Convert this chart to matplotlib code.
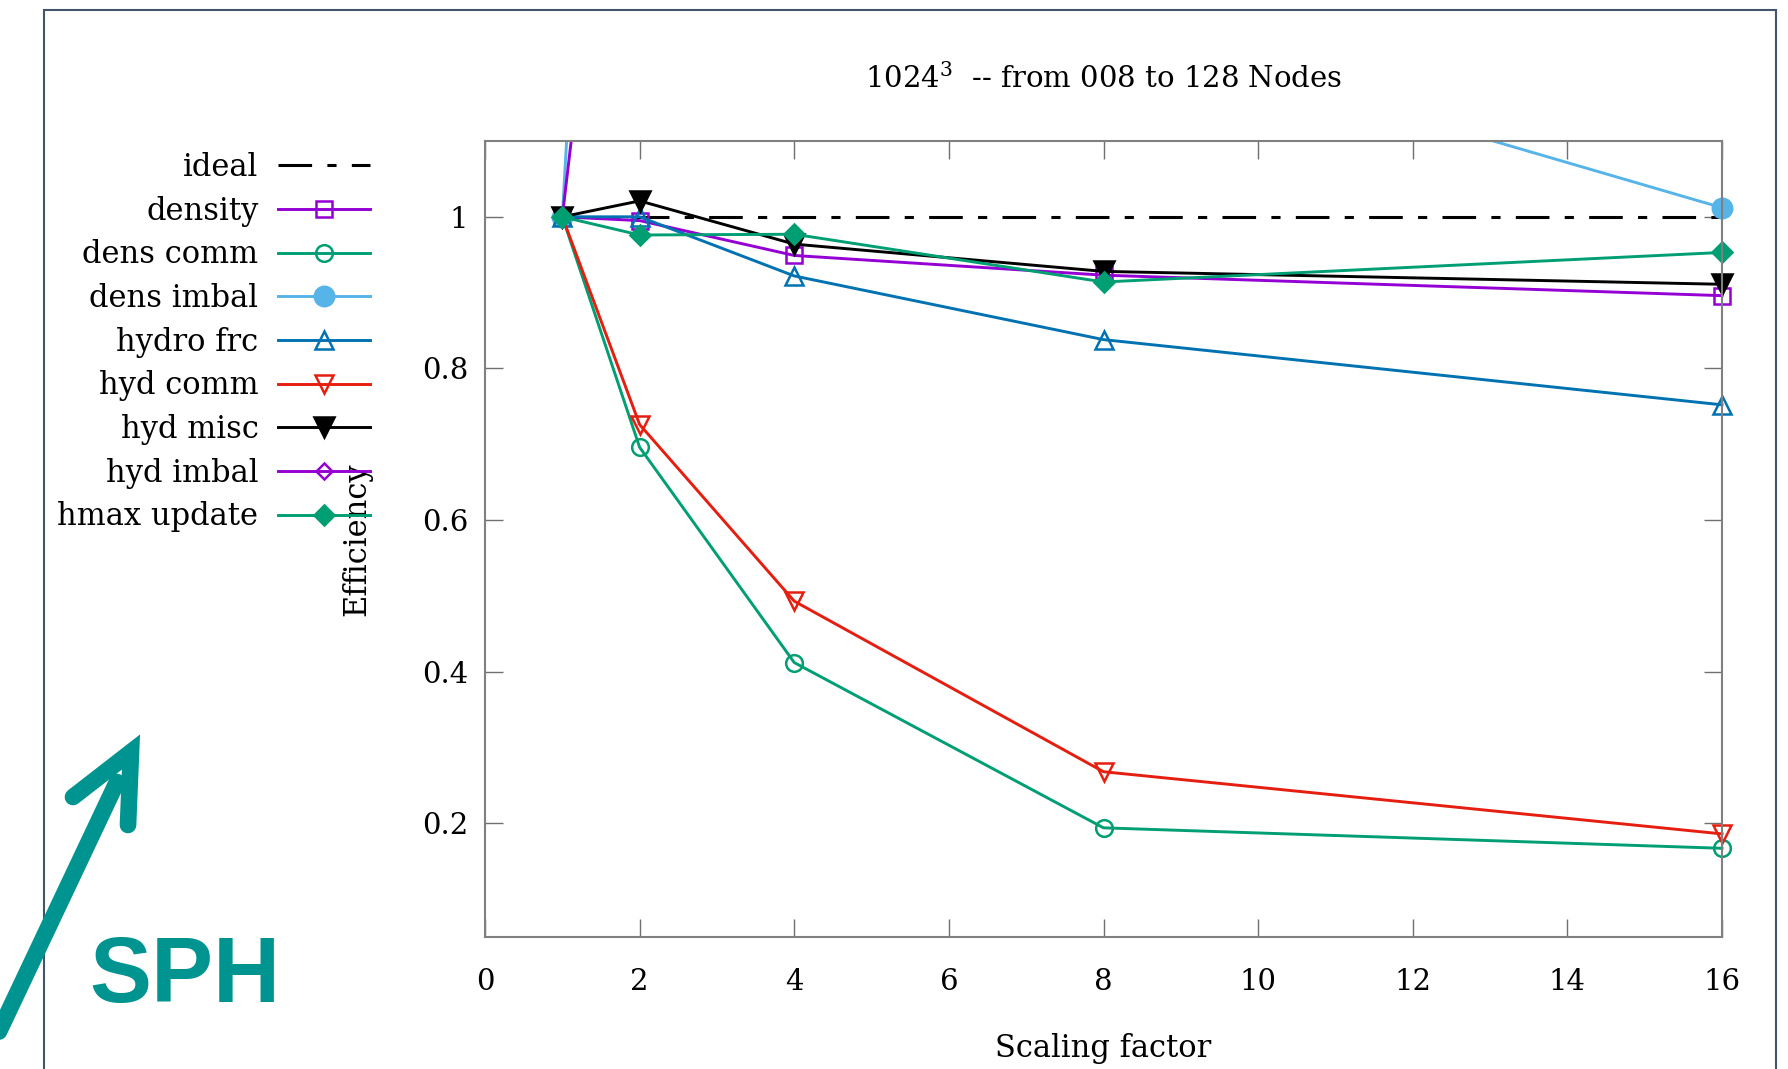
import matplotlib
matplotlib.use("Agg")
import matplotlib.pyplot as plt
from matplotlib.lines import Line2D
from matplotlib.patches import Rectangle
from matplotlib.transforms import Bbox, TransformedBbox

plt.rcParams['font.family'] = ['DejaVu Serif']
plt.rcParams['mathtext.fontset'] = 'dejavuserif'

# scaling factors (8 -> 128 nodes)
scale = [1, 2, 4, 8, 16]

density     = [1.0, 0.995, 0.949, 0.923, 0.896]
dens_comm   = [1.0, 0.696, 0.412, 0.194, 0.167]
dens_imbal  = [1.0, 2.80, 2.00, 1.25, 1.012]
hydro_frc   = [1.0, 1.0, 0.922, 0.838, 0.752]
hyd_comm    = [1.0, 0.726, 0.493, 0.268, 0.186]
hyd_misc    = [1.0, 1.021, 0.964, 0.928, 0.911]
hyd_imbal   = [1.0, 1.87, 1.60, 1.50, 1.40]
hmax_update = [1.0, 0.976, 0.977, 0.914, 0.953]
ideal = [1.0, 1.0]
ideal_x = [1, 16]

series = [
    ("density",     density,     "#9400d3", "s", 12, "none"),
    ("dens comm",   dens_comm,   "#009e73", "o", 12, "none"),
    ("dens imbal",  dens_imbal,  "#56b4e9", "o", 14, "full"),
    ("hydro frc",   hydro_frc,   "#0072b2", "^", 13, "none"),
    ("hyd comm",    hyd_comm,    "#e51e10", "v", 13, "none"),
    ("hyd misc",    hyd_misc,    "#000000", "v", 14, "full"),
    ("hyd imbal",   hyd_imbal,   "#9400d3", "D", 8,  "none"),
    ("hmax update", hmax_update, "#009e73", "D", 10, "full"),
]

W, H = 1788, 1069
fig = plt.figure(figsize=(W / 100, H / 100), dpi=100)
ax = fig.add_axes([485 / W, 1 - 937 / H, (1722 - 485) / W, (937 - 141) / H])

# slide frame
fig.add_artist(Rectangle((44 / W, -0.02), (1776 - 44) / W, 1 - 10 / H + 0.02,
                         transform=fig.transFigure, fill=False,
                         edgecolor="#44546a", linewidth=1.5))

ax.plot(ideal_x, ideal, color="black", linewidth=2.2, dashes=(11, 5, 3, 5),
        label="ideal")

clip = TransformedBbox(Bbox([[-0.03, 0], [1.03, 1]]), ax.transAxes)
for name, vals, col, mk, ms, fs in series:
    ln, = ax.plot(scale, vals, color=col, linewidth=2.1, marker=mk,
                  markersize=ms, fillstyle=fs, markeredgewidth=1.8,
                  label=name)
    ln.set_clip_box(clip)

ax.set_xlim(0, 16)
ax.set_ylim(0.05, 1.1)
ax.set_xticks(range(0, 17, 2))
ax.set_yticks([0.2, 0.4, 0.6, 0.8, 1.0])
ax.set_yticklabels(["0.2", "0.4", "0.6", "0.8", "1"])
ax.tick_params(direction="in", length=13, width=1, color="#707070",
               top=True, right=True, labelsize=21)
ax.tick_params(axis="x", pad=22)
ax.tick_params(axis="y", pad=12)
for sp in ax.spines.values():
    sp.set_color("#808080")
    sp.set_linewidth(1.5)

ax.set_title(r"1024$^3$  -- from 008 to 128 Nodes", fontsize=21, pad=38)
ax.set_xlabel("Scaling factor", fontsize=22, labelpad=27)
ax.set_ylabel("Efficiency", fontsize=22)
ax.yaxis.set_label_coords(-0.091, 0.5)

fig.legend(loc="upper right", bbox_to_anchor=(370 / W, 1 - 152 / H),
           frameon=False, markerfirst=False, fontsize=22, handlelength=3.0,
           handletextpad=0.65, labelspacing=0.415, borderpad=0,
           borderaxespad=0)

# SPH badge
teal = "#009490"
def fx(x):
    return x / W
def fy(y):
    return 1 - y / H
fig.add_artist(Line2D([fx(-5), fx(117)], [fy(1040), fy(782)], color=teal,
                      linewidth=12, solid_capstyle="round",
                      transform=fig.transFigure))
fig.add_artist(Line2D([fx(73), fx(131), fx(128)], [fy(797), fy(752), fy(825)],
                      color=teal, linewidth=12, solid_capstyle="round",
                      solid_joinstyle="miter", transform=fig.transFigure))
fig.text(fx(89), fy(1002), "SPH", color=teal, fontsize=67,
         fontweight="bold", family="Liberation Sans", va="baseline")

fig.savefig("out.png", dpi=100)
